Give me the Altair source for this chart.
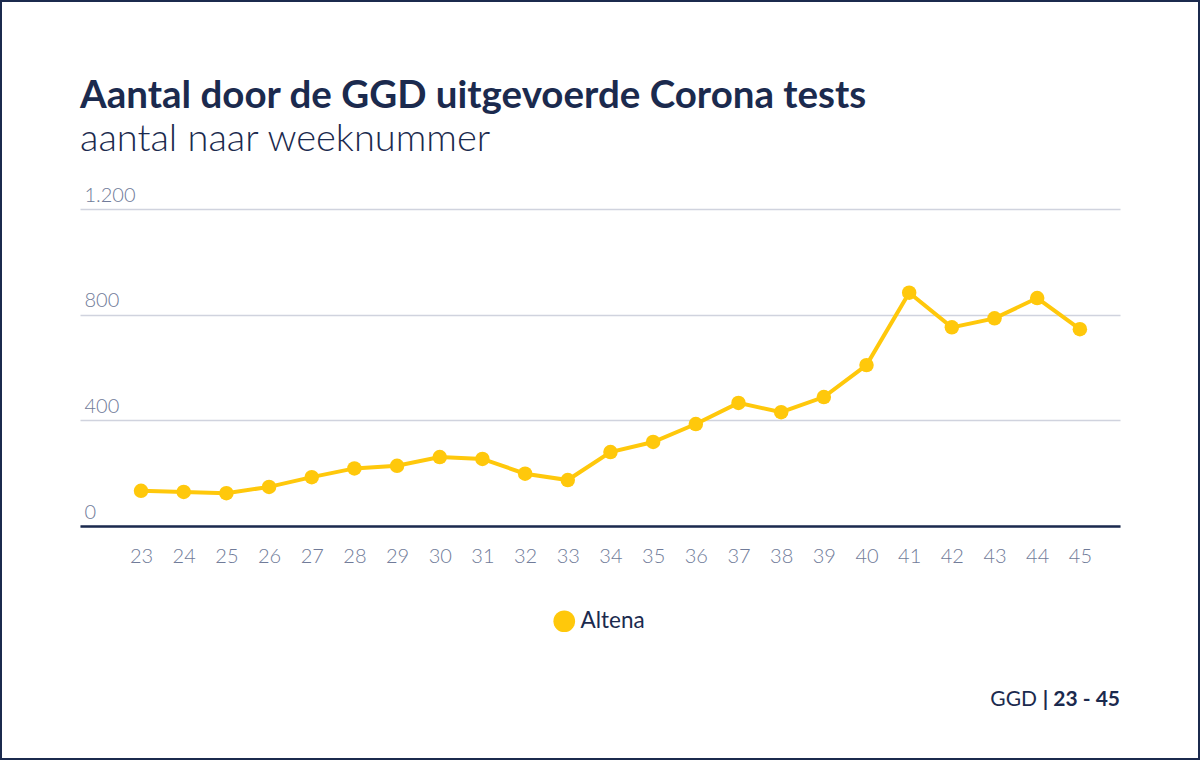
import altair as alt
import pandas as pd

weeks = list(range(23, 46))
tests = [133, 129, 124, 148, 185, 218, 228, 261, 254, 198, 174,
         280, 318, 386, 466, 431, 488, 609, 883, 752, 786, 863, 745]
series_name = "Altena"
title_text = ["Aantal door de GGD uitgevoerde Corona tests"]
subtitle_text = ["aantal naar weeknummer"]
footer_regular = ["GGD"]
footer_bold = ["| 23 - 45"]
y_ticks = [0, 400, 800, 1200]

NAVY = "#1b2a4e"
GOLD = "#ffc80b"
LABEL = "#707b99"
FONT = "Lato"

df = pd.DataFrame({"week": weeks, "tests": tests, "gemeente": series_name})

W, H = 1040, 317
PAD_L, PAD_T = 80, 209
PAD_R = 1200 - PAD_L - W
PAD_B = 760 - PAD_T - H

x = alt.X("week:Q",
          scale=alt.Scale(domain=[21.57, 45.94], nice=False, zero=False),
          axis=alt.Axis(values=weeks, format="d", title=None, grid=False,
                        ticks=False, domainColor=NAVY, domainWidth=2.5,
                        labelColor=LABEL, labelFontSize=20, labelFont=FONT,
                        labelFontWeight=300, labelPadding=20))
y = alt.Y("tests:Q",
          scale=alt.Scale(domain=[0, 1200], nice=False),
          axis=alt.Axis(values=y_ticks, title=None, ticks=False, domain=False,
                        gridColor="#d0d3de", gridWidth=1.5,
                        labelAlign="left", labelBaseline="alphabetic",
                        labelPadding=-4, labelOffset=-8,
                        labelExpr="replace(format(datum.value, ','), ',', '.')",
                        labelColor=LABEL, labelFontSize=20, labelFont=FONT,
                        labelFontWeight=300))
color = alt.Color("gemeente:N", scale=alt.Scale(range=[GOLD]),
                  legend=alt.Legend(title=None, orient="none",
                                    legendX=473, legendY=401,
                                    symbolType="circle", symbolSize=470,
                                    symbolStrokeWidth=0, symbolOpacity=1,
                                    labelFontSize=22.5, labelFont=FONT,
                                    labelColor=NAVY, labelFontWeight=400,
                                    labelOffset=5))

base = alt.Chart(df)
line = base.mark_line(strokeWidth=4).encode(x=x, y=y, color=color)
pts = base.mark_point(filled=True, size=210, opacity=1).encode(x=x, y=y, color=color)

text_df = pd.DataFrame({"title": title_text, "sub": subtitle_text,
                        "reg": footer_regular, "bold": footer_bold})

title = alt.Chart(text_df).mark_text(
    align="left", baseline="alphabetic", fontSize=38.5, font=FONT,
    fontWeight="bold", color=NAVY
).encode(text="title:N", x=alt.value(0), y=alt.value(108 - PAD_T))
subtitle = alt.Chart(text_df).mark_text(
    align="left", baseline="alphabetic", fontSize=38, font=FONT,
    fontWeight=300, color=NAVY
).encode(text="sub:N", x=alt.value(0), y=alt.value(151 - PAD_T))

foot_bold = alt.Chart(text_df).mark_text(
    align="right", baseline="alphabetic", fontSize=21, font=FONT,
    fontWeight="bold", color=NAVY
).encode(text="bold:N", x=alt.value(W), y=alt.value(706 - PAD_T))
foot_reg = alt.Chart(text_df).mark_text(
    align="right", baseline="alphabetic", fontSize=21, font=FONT,
    fontWeight=400, color=NAVY, dx=-83
).encode(text="reg:N", x=alt.value(W), y=alt.value(706 - PAD_T))

border = alt.Chart(text_df).mark_rect(
    fill=None, stroke=NAVY, strokeWidth=2
).encode(x=alt.value(-PAD_L + 1), x2=alt.value(W + PAD_R - 1),
         y=alt.value(-PAD_T + 1), y2=alt.value(H + PAD_B - 1))

chart = alt.layer(line, pts, title, subtitle, foot_reg, foot_bold, border).properties(
    width=W, height=H,
    padding={"left": PAD_L, "top": PAD_T, "right": PAD_R, "bottom": PAD_B},
    autosize=alt.AutoSizeParams(type="none"),
    background="white",
).configure_view(stroke=None)

chart.save("out.html", embed_options={"renderer": "svg", "actions": False})
